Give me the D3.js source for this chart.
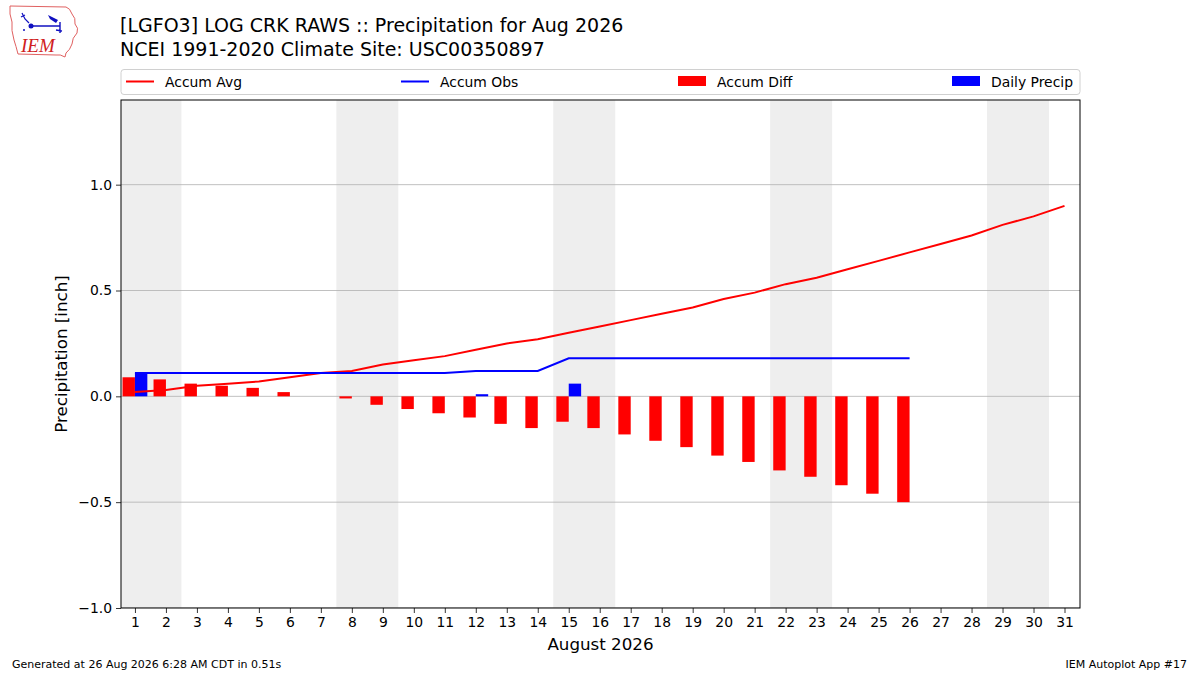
<!DOCTYPE html>
<html>
<head>
<meta charset="utf-8">
<script src="https://cdn.jsdelivr.net/npm/d3@7"></script>
<style>
    body { margin: 0; background: white; }
    svg { font-family: "DejaVu Sans", sans-serif; }
</style>
</head>
<body>
<svg id="chart" width="1200" height="675"></svg>
<script>
// DATA (inches)

var days = d3.range(1, 32); // August 1..31
var accumAvg = [0.02, 0.03, 0.05, 0.06, 0.07, 0.09, 0.11, 0.12, 0.15, 0.17, 0.19, 0.22, 0.25, 0.27, 0.30, 0.33,
    0.36, 0.39, 0.42, 0.46, 0.49, 0.53, 0.56, 0.60, 0.64, 0.68, 0.72, 0.76, 0.81, 0.85, 0.90];
var accumObs = [0.11, 0.11, 0.11, 0.11, 0.11, 0.11, 0.11, 0.11, 0.11, 0.11, 0.11, 0.12, 0.12, 0.12, 0.18, 0.18,
    0.18, 0.18, 0.18, 0.18, 0.18, 0.18, 0.18, 0.18, 0.18, 0.18];
var accumDiff = [0.09, 0.08, 0.06, 0.05, 0.04, 0.02, 0.00, -0.01, -0.04, -0.06, -0.08, -0.10, -0.13, -0.15, -0.12,
    -0.15, -0.18, -0.21, -0.24, -0.28, -0.31, -0.35, -0.38, -0.42, -0.46, -0.50];
var dailyPrecip = [0.11, 0, 0, 0, 0, 0, 0, 0, 0, 0, 0, 0.01, 0, 0, 0.06, 0, 0, 0, 0, 0, 0, 0, 0, 0, 0, 0];
var weekends = [[0.5, 2.5], [7.5, 9.5], [14.5, 16.5], [21.5, 23.5], [28.5, 30.5]];
var yTicks = [-1.0, -0.5, 0.0, 0.5, 1.0];
var legendItems = [
    {label: "Accum Avg", color: "#ff0000", type: "line"},
    {label: "Accum Obs", color: "#0000ff", type: "line"},
    {label: "Accum Diff", color: "#ff0000", type: "patch"},
    {label: "Daily Precip", color: "#0000ff", type: "patch"}
];

var svg = d3.select("#chart");
// note: "top" is reserved on window, so plot edges get a prefix
var plotLeft = 121, plotRight = 1080, plotTop = 100, plotBottom = 608;

var x = d3.scaleLinear().domain([0.55, 31.5]).range([plotLeft, plotRight]);
var y = d3.scaleLinear().domain([-1.0, 1.4]).range([plotBottom, plotTop]);

// clip for the plot area
svg.append("clipPath").attr("id", "plotClip")
    .append("rect")
    .attr("x", plotLeft).attr("y", plotTop)
    .attr("width", plotRight - plotLeft).attr("height", plotBottom - plotTop);

let plot = svg.append("g").attr("clip-path", "url(#plotClip)");

// weekend shading
plot.selectAll(".weekend")
    .data(weekends)
    .enter()
    .append("rect")
    .attr("class", "weekend")
    .attr("x", d => x(d[0]))
    .attr("width", d => x(d[1]) - x(d[0]))
    .attr("y", plotTop)
    .attr("height", plotBottom - plotTop)
    .attr("fill", "#eeeeee");

// horizontal grid
plot.selectAll(".grid")
    .data(yTicks)
    .enter()
    .append("line")
    .attr("x1", plotLeft).attr("x2", plotRight)
    .attr("y1", d => y(d)).attr("y2", d => y(d))
    .attr("stroke", "#b0b0b0")
    .attr("stroke-width", 0.8);

// accum diff bars (left of the day)
plot.selectAll(".diff")
    .data(accumDiff)
    .enter()
    .append("rect")
    .attr("x", (d, i) => x(days[i] - 0.4))
    .attr("width", (d, i) => x(days[i]) - x(days[i] - 0.4))
    .attr("y", d => y(Math.max(0, d)))
    .attr("height", d => Math.abs(y(d) - y(0)))
    .attr("fill", "#ff0000");

// daily precip bars (right of the day)
plot.selectAll(".daily")
    .data(dailyPrecip)
    .enter()
    .append("rect")
    .attr("x", (d, i) => x(days[i]))
    .attr("width", (d, i) => x(days[i] + 0.4) - x(days[i]))
    .attr("y", d => y(Math.max(0, d)))
    .attr("height", d => Math.abs(y(d) - y(0)))
    .attr("fill", "#0000ff");

let line = d3.line()
    .x((d, i) => x(days[i]))
    .y(d => y(d));

plot.append("path")
    .datum(accumAvg)
    .attr("d", line)
    .attr("fill", "none")
    .attr("stroke", "#ff0000")
    .attr("stroke-width", 2);

plot.append("path")
    .datum(accumObs)
    .attr("d", line)
    .attr("fill", "none")
    .attr("stroke", "#0000ff")
    .attr("stroke-width", 2);

// axes
let xAxis = svg.append("g")
    .attr("transform", "translate(0," + plotBottom + ")")
    .call(d3.axisBottom(x).tickValues(days).tickFormat(d3.format("d")).tickSize(5).tickPadding(4));
let yAxis = svg.append("g")
    .attr("transform", "translate(" + plotLeft + ",0)")
    .call(d3.axisLeft(y).tickValues(yTicks).tickFormat(d3.format(".1f")).tickSize(5).tickPadding(4));

[xAxis, yAxis].forEach(a => {
    a.select(".domain").remove();
    a.selectAll("text").style("font-size", "13.9px").attr("fill", "black")
        .style("font-family", "DejaVu Sans");
    a.selectAll("line").attr("stroke", "black").attr("stroke-width", 0.8);
});

// frame
svg.append("rect")
    .attr("x", plotLeft).attr("y", plotTop)
    .attr("width", plotRight - plotLeft).attr("height", plotBottom - plotTop)
    .attr("fill", "none")
    .attr("stroke", "black")
    .attr("stroke-width", 1);

// axis labels
svg.append("text")
    .attr("x", (plotLeft + plotRight) / 2)
    .attr("y", 650)
    .attr("text-anchor", "middle")
    .style("font-size", "16.7px")
    .text("August 2026");

svg.append("text")
    .attr("transform", "translate(67," + (plotTop + plotBottom) / 2 + ") rotate(-90)")
    .attr("text-anchor", "middle")
    .style("font-size", "16.7px")
    .text("Precipitation [inch]");

// legend
let legend = svg.append("g").attr("class", "legend");
legend.append("rect")
    .attr("x", 121).attr("y", 69.5)
    .attr("width", 959).attr("height", 25)
    .attr("rx", 3)
    .attr("fill", "white")
    .attr("stroke", "#d0d0d0")
    .attr("stroke-width", 1);

let legendX = [126, 401, 678, 952];
legendItems.forEach((item, i) => {
    let lx = legendX[i];
    if (item.type == "line") {
        legend.append("line")
            .attr("x1", lx).attr("x2", lx + 28)
            .attr("y1", 81.5).attr("y2", 81.5)
            .attr("stroke", item.color)
            .attr("stroke-width", 2);
    } else {
        legend.append("rect")
            .attr("x", lx).attr("y", 76)
            .attr("width", 28).attr("height", 10)
            .attr("fill", item.color);
    }
    legend.append("text")
        .attr("x", lx + 39)
        .attr("y", 86.5)
        .style("font-size", "13.9px")
        .text(item.label);
});

// title
svg.append("text")
    .attr("x", 120).attr("y", 31.5)
    .style("font-size", "19px")
    .text("[LGFO3] LOG CRK RAWS :: Precipitation for Aug 2026");
svg.append("text")
    .attr("x", 120).attr("y", 55.5)
    .style("font-size", "19px")
    .text("NCEI 1991-2020 Climate Site: USC00350897");

// footer
svg.append("text")
    .attr("x", 12).attr("y", 668)
    .style("font-size", "11px")
    .text("Generated at 26 Aug 2026 6:28 AM CDT in 0.51s");
svg.append("text")
    .attr("x", 1187).attr("y", 668)
    .attr("text-anchor", "end")
    .style("font-size", "11px")
    .text("IEM Autoplot App #17");

// IEM logo (rough sketch of the Iowa outline + vane)
let logo = svg.append("g").attr("class", "logo");
logo.append("path")
    .attr("d", "M10,6 L66,7 Q70,8 72,14 Q76,18 75,24 Q79,28 77,33 Q72,38 72,44 Q70,50 66,53 L65,57 Q60,54 56,55 L18,54 Q16,46 14,40 Q11,30 12,22 Q9,14 10,6 Z")
    .attr("fill", "white")
    .attr("stroke", "#e06060")
    .attr("stroke-width", 1);
logo.append("line")
    .attr("x1", 31).attr("x2", 60).attr("y1", 26).attr("y2", 26)
    .attr("stroke", "#1010c0").attr("stroke-width", 1.5);
logo.append("circle")
    .attr("cx", 31).attr("cy", 26).attr("r", 2.5)
    .attr("fill", "#1010c0");
logo.append("path")
    .attr("d", "M48,15 L58,20 L56,23 L50,19 Z")
    .attr("fill", "#1010c0");
logo.append("path")
    .attr("d", "M22,13 L25,19 L29,23 M21,17 L25,15")
    .attr("fill", "none")
    .attr("stroke", "#1010c0").attr("stroke-width", 1.2);
logo.append("path")
    .attr("d", "M60,22 L60,33 M56,30 L62,31 M23,30 L25,30")
    .attr("fill", "none")
    .attr("stroke", "#1010c0").attr("stroke-width", 1.4);
logo.append("text")
    .attr("x", 21).attr("y", 52)
    .style("font-family", "Liberation Serif")
    .style("font-style", "italic")
    .style("font-size", "19px")
    .attr("fill", "#d02020")
    .text("IEM");
</script>
</body>
</html>
